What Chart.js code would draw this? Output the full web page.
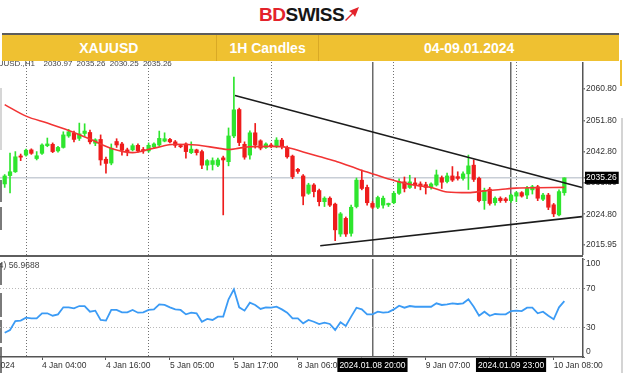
<!DOCTYPE html>
<html>
<head>
<meta charset="utf-8">
<script src="https://cdn.jsdelivr.net/npm/chart.js@4.4.0/dist/chart.umd.min.js"></script>
<style>
  body { margin:0; width:624px; height:373px; overflow:hidden; background:#fff; position:relative;
         font-family:"Liberation Sans", Arial, sans-serif; }
  .abs { position:absolute; }
  #logo { left:259px; top:4px; font-weight:bold; font-size:19px; letter-spacing:-0.5px; white-space:nowrap; }
  #logo .bd { color:#e3232b; }
  #logo .sw { color:#161616; }
  #bar { left:2px; top:33px; width:617px; height:26px; border-top:2px solid #5c5c5c; background:#efc131; display:flex; }
  #bar div { color:#fff; font-weight:bold; font-size:14px; text-align:center; line-height:26px; }
  #info { left:-13px; top:59px; font-size:8px; color:#444; white-space:pre; word-spacing:2px; }
  #rsiinfo { left:-23px; top:260px; font-size:8.5px; color:#444; white-space:pre; }
  #sep { left:0; top:255px; width:583px; height:2px; background:#5e5e5e; }
</style>
</head>
<body>
<div id="logo" class="abs"><span class="bd">BD</span><span class="sw">SWISS</span><svg width="14" height="14" viewBox="0 0 14 14" style="margin-left:1px"><polygon points="0,13 7,6 4,4 14,0 10,10 8,7 1,14" fill="#e3232b"/></svg></div>
<div id="bar" class="abs">
  <div style="width:214px;">XAUUSD</div>
  <div style="width:102px;border-left:1px solid #d9a925;">1H Candles</div>
  <div style="width:300px;border-left:1px solid #d9a925;">04-09.01.2024</div>
</div>
<div class="abs" style="left:2px;top:59px;width:214px;height:2px;background:#efc131;"></div>
<div class="abs" style="left:0;top:88px;width:2px;height:62px;background:#d6d6d6;"></div>
<div class="abs" style="left:0;top:180px;width:2px;height:22px;background:#7a7a7a;"></div>
<div class="abs" style="left:0;top:207px;width:2px;height:23px;background:#7a7a7a;"></div>
<div class="abs" style="left:0;top:263px;width:2px;height:22px;background:#7a7a7a;"></div>
<div class="abs" style="left:0;top:293px;width:2px;height:24px;background:#7a7a7a;"></div>
<div class="abs" style="left:0;top:320px;width:2px;height:23px;background:#7a7a7a;"></div>
<div class="abs" style="left:0;top:347px;width:2px;height:26px;background:#7a7a7a;"></div>
<div class="abs" style="left:620px;top:60px;width:2px;height:26px;background:#efc131;"></div>
<div class="abs" style="left:621px;top:118px;width:2px;height:255px;background:#d4d4d4;"></div>

<div class="abs" style="left:0;top:62px;"><canvas id="main" width="624" height="193"></canvas></div>
<div id="sep" class="abs"></div>
<div class="abs" style="left:0;top:258px;"><canvas id="rsi" width="624" height="115"></canvas></div>
<div id="info" class="abs">XAUUSD.,H1  2030.97 2035.26 2030.25 2035.26</div>
<div id="rsiinfo" class="abs">RSI(14) 56.9688</div>

<script>
// hourly candles, 3 Jan 20:00 .. 10 Jan 10:00 (index = bar number)
var opens = [2033.5,2035.9,2037.0,2041.5,2041.8,2043.3,2040.8,2042.3,2044.5,2044.9,
  2043.0,2044.0,2047.3,2048.1,2046.6,2048.0,2048.3,2045.2,2046.3,2040.6,
  2039.5,2045.7,2045.0,2043.3,2043.3,2044.6,2043.4,2043.0,2044.2,2044.7,
  2045.8,2046.3,2045.6,2044.5,2045.0,2042.5,2043.3,2042.8,2038.9,2039.1,
  2038.9,2041.0,2039.9,2047.3,2054.9,2044.9,2041.8,2048.2,2045.9,2044.0,
  2044.7,2044.2,2046.1,2044.0,2041.5,2037.7,2035.8,2030.8,2033.2,2031.6,
  2028.4,2029.4,2027.7,2019.1,2023.6,2019.3,2027.0,2034.6,2032.5,2027.9,
  2026.8,2027.4,2027.5,2028.1,2030.8,2034.1,2032.5,2033.8,2033.5,2033.3,
  2032.6,2033.2,2035.3,2034.2,2035.8,2035.6,2035.1,2036.4,2038.9,2035.1,
  2028.7,2032.0,2028.1,2029.4,2029.2,2028.7,2030.0,2031.0,2030.3,2031.8,
  2032.7,2029.1,2030.3,2027.5,2024.6,2030.97];
var highs = [2036.2,2042.4,2042.8,2042.1,2043.5,2043.6,2042.8,2045.0,2046.7,2045.3,
  2044.3,2048.5,2049.2,2048.7,2051.0,2050.8,2049.0,2046.5,2047.6,2041.2,
  2045.0,2046.5,2045.5,2043.8,2045.0,2045.0,2044.0,2045.3,2045.3,2048.7,
  2048.2,2046.6,2046.0,2044.9,2045.3,2045.6,2043.5,2043.2,2040.5,2041.0,
  2040.9,2041.5,2049.6,2064.2,2055.3,2045.6,2048.8,2050.9,2046.2,2045.3,
  2045.2,2046.8,2046.6,2044.4,2041.8,2038.0,2036.2,2033.7,2033.6,2032.0,
  2029.8,2029.8,2028.0,2025.3,2024.0,2027.4,2035.2,2037.5,2033.2,2028.4,
  2030.0,2030.0,2028.0,2031.3,2035.0,2035.5,2036.0,2035.2,2034.1,2034.0,
  2033.8,2037.5,2035.8,2036.6,2038.5,2037.0,2037.0,2041.8,2040.4,2035.5,
  2032.3,2032.5,2029.8,2029.8,2029.6,2030.6,2031.3,2031.3,2032.8,2033.1,
  2033.1,2030.8,2030.8,2027.9,2031.8,2035.26];
var lows = [2032.5,2030.9,2036.8,2040.2,2041.5,2042.0,2040.4,2042.0,2044.2,2042.5,
  2042.6,2043.8,2046.9,2045.6,2046.0,2047.2,2045.0,2044.5,2038.9,2036.6,
  2039.0,2044.0,2041.8,2041.6,2043.0,2042.6,2042.3,2042.6,2043.8,2044.3,
  2045.6,2045.3,2044.0,2043.9,2040.9,2042.2,2041.8,2037.9,2037.5,2037.5,
  2038.5,2024.6,2038.7,2046.8,2044.5,2040.6,2040.6,2043.8,2043.3,2043.7,
  2043.9,2043.9,2043.6,2040.9,2035.0,2036.5,2027.5,2030.5,2029.8,2027.2,
  2027.0,2027.0,2017.2,2018.4,2018.4,2018.5,2026.6,2031.8,2027.4,2026.4,
  2026.4,2026.5,2027.0,2027.8,2030.5,2031.2,2032.2,2032.2,2031.8,2030.6,
  2032.0,2032.9,2032.2,2033.8,2034.2,2034.6,2034.6,2031.9,2034.2,2028.3,
  2026.2,2027.4,2027.4,2028.2,2028.2,2028.2,2028.4,2029.7,2029.3,2030.6,
  2028.7,2028.7,2026.1,2024.1,2024.3,2030.25];
var closes = [2035.8,2037.0,2041.3,2041.2,2043.2,2042.3,2041.6,2044.7,2045.0,2042.8,
  2044.0,2047.6,2048.5,2046.3,2047.9,2048.7,2045.6,2046.2,2040.4,2039.4,
  2043.8,2044.7,2043.2,2042.8,2044.5,2043.0,2043.0,2044.6,2045.0,2046.6,
  2046.5,2045.6,2044.6,2044.2,2042.8,2043.5,2042.5,2038.9,2040.2,2040.2,
  2040.4,2040.4,2047.3,2054.8,2045.4,2041.2,2048.2,2044.7,2043.8,2045.0,
  2044.3,2046.1,2044.2,2041.3,2035.6,2037.1,2030.0,2033.2,2031.3,2028.4,
  2029.4,2027.4,2020.3,2024.9,2019.1,2026.8,2034.6,2032.2,2028.1,2026.8,
  2029.6,2029.4,2027.9,2030.8,2034.1,2032.2,2034.1,2033.2,2032.9,2032.5,
  2033.5,2036.1,2034.0,2035.8,2034.6,2035.1,2036.4,2038.7,2034.8,2028.7,
  2031.6,2027.9,2029.4,2028.7,2028.7,2030.3,2031.0,2030.0,2032.2,2032.7,
  2029.4,2030.3,2026.8,2024.9,2031.3,2035.26];

// moving average, read at some bars
var maIdx = [0,4,8,12,16,20,24,28,32,36,40,42,44,46,50,53,56,59,62,65,68,71,74,77,80,83,87,90,93,96,100,105];
var maVal = [2056.3,2053.0,2051.0,2048.9,2046.4,2043.7,2042.5,2043.8,2044.9,2044.7,2043.8,2043.4,2043.8,2044.2,2044.3,2044.0,
  2042.7,2041.4,2040.1,2038.5,2036.9,2035.4,2034.1,2033.1,2032.5,2031.2,2031.0,2031.5,2031.9,2032.3,2032.4,2032.5];

// trend lines (bar index, price)
var upperX = [43.2, 108.3], upperY = [2058.9, 2032.5];
var lowerX = [59.2, 108.3], lowerY = [2015.75, 2024.1];

// RSI(14)
var rsi = [24.8,27.6,36.7,37.1,40.1,39.5,39.5,44.6,44.6,42.1,
  43.5,50.7,50.7,49.7,52.0,52.0,46.2,47.3,37.8,37.1,
  48.0,48.0,45.6,45.6,48.0,45.2,45.6,48.0,48.6,53.7,
  53.1,50.7,48.6,48.0,43.5,45.2,44.6,36.0,38.8,37.8,
  41.2,41.2,58.9,69.1,50.7,47.3,55.4,53.1,49.0,50.7,
  50.3,51.3,48.6,45.2,39.5,39.5,34.4,37.8,36.0,33.5,
  35.0,33.7,27.6,35.4,31.6,41.2,50.3,48.6,43.5,43.5,
  46.2,45.2,45.9,48.6,52.4,50.3,52.0,51.3,51.3,51.3,
  51.3,54.8,53.1,53.8,54.8,54.1,54.8,58.9,51.3,42.1,
  46.2,42.1,43.9,43.5,43.5,46.9,47.3,46.9,50.3,50.3,
  44.6,46.2,42.1,38.5,50.7,56.97];

var priceTicks = [2060.80, 2051.80, 2042.80, 2033.80, 2024.80, 2015.95];
var lastPrice = 2035.26;
var rsiTicks = [100, 70, 30, 0];
var rsiLevels = [70, 30];
var timeIdx = [-6, 7, 19, 31, 43, 55, 67, 79, 91, 103];
var timeLabels = ['3 Jan 2024','4 Jan 04:00','4 Jan 16:00','5 Jan 05:00','5 Jan 17:00','8 Jan 06:00','8 Jan 18:00','9 Jan 07:00','9 Jan 19:00','10 Jan 08:00'];
var daySepIdx = [4, 27, 50, 73, 96];
var markerIdx = [69, 95];
var markerLabels = ['2024.01.08 20:00', '2024.01.09 23:00'];

var FONT = '"Liberation Sans", Arial, sans-serif';
var GREEN = '#2ee52e', RED = '#ee1c1c';
var SEP = '#707070';
var colors = [];
var wicks = [], bodies = [];
for (var i = 0; i < opens.length; i++) {
  colors[i] = closes[i] >= opens[i] ? GREEN : RED;
  wicks.push({x: i, y: [lows[i], highs[i]]});
  bodies.push({x: i, y: [opens[i], closes[i]]});
}
var maData = maIdx.map(function (v, k) { return {x: v, y: maVal[k]}; });
var rsiData = rsi.map(function (v, k) { return {x: k, y: v}; });

var X_MIN = -0.88, X_MAX = 108.5;

function vlineAxis(values, color, width, dash) {
  return {
    type: 'linear', position: 'bottom', min: X_MIN, max: X_MAX, offset: false,
    afterBuildTicks: function (s) { s.ticks = values.map(function (v) { return {value: v}; }); },
    afterFit: function (s) { s.height = 0; s.paddingLeft = 0; s.paddingRight = 0; },
    ticks: {display: false},
    grid: {color: color, lineWidth: width, drawTicks: false, offset: false},
    border: {display: false, dash: dash}
  };
}

var common = {
  responsive: false, animation: false, events: [],
  plugins: {legend: {display: false}, tooltip: {enabled: false}}
};

new Chart(document.getElementById('main'), {
  type: 'bar',
  data: {
    datasets: [
      {type: 'line', data: upperX.map(function (v, k) { return {x: v, y: upperY[k]}; }), borderColor: '#1c1c1c', borderWidth: 1.6, pointRadius: 0},
      {type: 'line', data: lowerX.map(function (v, k) { return {x: v, y: lowerY[k]}; }), borderColor: '#1c1c1c', borderWidth: 1.6, pointRadius: 0},
      {type: 'line', data: maData, borderColor: '#f23434', borderWidth: 1.6, pointRadius: 0, cubicInterpolationMode: 'monotone'},
      {data: bodies, backgroundColor: colors, barThickness: 3.6, grouped: false, minBarLength: 1.2, xAxisID: 'x'},
      {data: wicks, backgroundColor: colors, barThickness: 1, grouped: false, xAxisID: 'x'}
    ]
  },
  options: Object.assign({}, common, {
    scales: {
      x: vlineAxis(daySepIdx, SEP, 1, [1, 2]),
      x2: vlineAxis(markerIdx, '#6a6a6a', 1.5, []),
      y: {
        type: 'linear', position: 'right', min: 2013.07, max: 2068.56,
        afterBuildTicks: function (s) { s.ticks = priceTicks.concat([lastPrice]).map(function (v) { return {value: v}; }); },
        afterFit: function (s) { s.width = 41; s.paddingTop = 0; s.paddingBottom = 0; },
        ticks: {
          callback: function (v) { return v.toFixed(2); },
          font: {family: FONT, size: 8.5}, padding: 1,
          color: function (c) { return c.tick && c.tick.value === lastPrice ? '#fff' : '#333'; },
          showLabelBackdrop: function (c) { return !!(c.tick && c.tick.value === lastPrice); },
          backdropColor: '#000', backdropPadding: {top: 1, bottom: 1, left: 1, right: 2}
        },
        grid: {
          color: function (c) { return c.tick && c.tick.value === lastPrice ? '#c8ced6' : 'rgba(0,0,0,0)'; },
          lineWidth: 1.5, tickLength: 2, tickColor: '#777'
        },
        border: {display: true, color: '#555', width: 1.5}
      }
    }
  })
});

var markerBoxes = {
  id: 'markerBoxes',
  afterDraw: function (chart) {
    var ctx = chart.ctx, xs = chart.scales.x;
    ctx.save();
    ctx.font = '8.5px ' + FONT;
    markerIdx.forEach(function (v, k) {
      var px = xs.getPixelForValue(v);
      var w = ctx.measureText(markerLabels[k]).width + 4;
      ctx.fillStyle = '#000';
      ctx.fillRect(px - w / 2, xs.top + 1, w, 14);
      ctx.fillStyle = '#fff';
      ctx.textAlign = 'center';
      ctx.textBaseline = 'middle';
      ctx.fillText(markerLabels[k], px, xs.top + 8.5);
    });
    ctx.restore();
  }
};

var labelTicks = timeIdx.concat(daySepIdx);
new Chart(document.getElementById('rsi'), {
  type: 'line',
  data: {
    datasets: [
      {data: rsiData, borderColor: '#3b9bf5', borderWidth: 1.8, pointRadius: 0}
    ]
  },
  plugins: [markerBoxes],
  options: Object.assign({}, common, {
    layout: {padding: {top: 1}},
    scales: {
      x: {
        type: 'linear', position: 'bottom', min: X_MIN, max: X_MAX, offset: false,
        afterBuildTicks: function (s) { s.ticks = labelTicks.map(function (v) { return {value: v}; }); },
        afterFit: function (s) { s.height = 16; s.paddingLeft = 0; s.paddingRight = 0; },
        ticks: {
          autoSkip: false, maxRotation: 0, align: 'start', padding: 1,
          font: {family: FONT, size: 8.5}, color: '#333',
          callback: function (v) { var k = timeIdx.indexOf(v); return k >= 0 ? timeLabels[k] : ''; }
        },
        grid: {
          offset: false,
          color: function (c) { return c.tick && daySepIdx.indexOf(c.tick.value) >= 0 ? SEP : 'rgba(0,0,0,0)'; },
          tickColor: function (c) { return c.tick && daySepIdx.indexOf(c.tick.value) >= 0 ? 'rgba(0,0,0,0)' : '#555'; },
          tickLength: 3
        },
        border: {display: true, color: '#555', width: 1.5, dash: [1, 2]}
      },
      x2: vlineAxis(markerIdx, '#6a6a6a', 1.5, []),
      y: {
        type: 'linear', position: 'right', min: 0, max: 100,
        afterBuildTicks: function (s) { s.ticks = rsiTicks.map(function (v) { return {value: v}; }); },
        afterFit: function (s) { s.width = 41; s.paddingTop = 0; s.paddingBottom = 0; },
        ticks: {
          font: {family: FONT, size: 8.5}, color: '#333', padding: 1,
          callback: function (v) { return v === 100 ? ['', '100'] : (v === 0 ? ['0', ''] : String(v)); }
        },
        grid: {
          color: function (c) { return c.tick && rsiLevels.indexOf(c.tick.value) >= 0 ? '#b9b9b9' : 'rgba(0,0,0,0)'; },
          tickLength: 2, tickColor: '#777'
        },
        border: {display: true, color: '#555', width: 1.5, dash: [1, 2]}
      }
    }
  })
});
</script>
</body>
</html>
